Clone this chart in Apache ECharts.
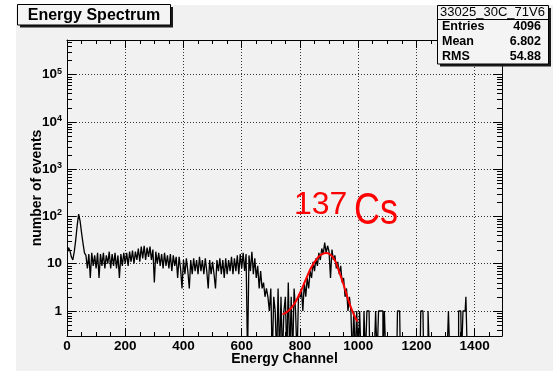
<!DOCTYPE html>
<html>
<head>
<meta charset="utf-8">
<script src="https://cdn.jsdelivr.net/npm/echarts@6/dist/echarts.min.js"></script>
<style>
  html, body { margin: 0; padding: 0; background: #fff; }
  #chart { width: 558px; height: 371px; }
</style>
</head>
<body>
<div id="chart"></div>
<script>
// Counts per 5-channel bin, starting at channel 0
const binWidth = 5;
const counts = [
  // 0–65: low-energy peak
  18, 22, 19, 14, 12, 18, 32, 65, 112, 80, 45, 27, 17,
  // 65–200
  15, 8, 16, 5, 17, 9, 15, 8, 17, 5, 16, 9, 17, 8, 15, 10, 18, 8, 16, 9, 17, 8, 15, 5, 16, 9, 17,
  // 200–300
  10, 17, 9, 18, 11, 19, 10, 18, 12, 21, 11, 23, 13, 24, 12, 22, 14, 23, 12, 20,
  // 300–400
  4, 18, 10, 17, 9, 16, 8, 17, 9, 15, 8, 16, 7, 15, 9, 14, 5, 14, 8, 3,
  // 400–600
  12, 6, 13, 7, 3, 12, 6, 13, 7, 12, 6, 14, 7, 12, 6, 13, 7, 3, 12, 6,
  11, 6, 3, 12, 7, 13, 6, 12, 5, 13, 6, 12, 7, 14, 6, 13, 7, 15, 6, 16,
  // 600–700: Compton edge
  8, 17, 7, 16, 0, 15, 7, 18, 6, 13, 5, 9, 3, 7, 3, 4, 2, 3, 2, 1,
  // 700–800
  3, 0, 2, 1, 0, 3, 0, 2, 0, 1, 2, 0, 4, 0, 2, 0, 3, 1, 0, 2,
  // 800–900: photopeak
  2, 3, 1, 4, 2, 5, 3, 7, 5, 11, 7, 13, 9, 17, 12, 21, 16, 28, 17, 24,
  // 900–1000
  18, 5, 20, 12, 15, 8, 11, 6, 9, 4, 5, 2, 3, 1, 2, 1, 0, 1, 0, 1,
  // 1000–1500
  0, 1, 0, 0, 1, 0, 1, 1, 0, 0,
  0, 0, 1, 0, 1, 1, 1, 0, 1, 0,
  0, 0, 0, 0, 0, 0, 0, 1, 1, 0,
  0, 0, 0, 0, 0, 0, 0, 0, 0, 0,
  0, 0, 0, 1, 1, 0, 0, 0, 1, 0,
  0, 0, 0, 0, 0, 0, 0, 0, 0, 0,
  0, 0, 1, 0, 0, 0, 0, 0, 0, 1,
  1, 0, 1, 1, 2, 0, 0, 0, 0, 0,
  0, 0, 0, 0, 0, 0, 0, 0, 0, 0,
  0, 0, 0, 0, 0, 0, 0, 0, 0, 0
];

// Gaussian fit over the 137Cs photopeak
const fitChannels = [740, 760, 780, 800, 820, 840, 860, 875, 890, 905, 920, 935, 950, 965, 980, 997];
const fitCounts   = [0.85, 1.0, 1.4, 2.4, 4.6, 8.6, 13.2, 15.8, 16.8, 15.5, 11.8, 6.7, 3.6, 1.8, 1.0, 0.6];

// Axis ranges
const xRange = [0, 1494];
const yRange = [0.296, 542000];

// Statistics box
const statsTitle = '33025_30C_71V6';
const statsNames = ['Entries', 'Mean', 'RMS'];
const statsValues = ['4096', '6.802', '54.88'];

const histTitle = 'Energy Spectrum';
const xTitle = 'Energy Channel';
const yTitle = 'number of events';

// Empty bins sit below the visible range of the log axis
const emptyBin = 0.1;
const histData = counts.map((c, i) => [i * binWidth + binWidth / 2, c > 0 ? c : emptyBin]);
const fitData = fitChannels.map((ch, i) => [ch, fitCounts[i]]);

// Log-axis secondary ticks at 2..9 of each decade
const yMinorTicks = [];
for (let e = -1; e <= 5; e++) {
  for (let m = 2; m <= 9; m++) {
    const v = m * Math.pow(10, e);
    if (v > yRange[0] && v < yRange[1]) yMinorTicks.push(v);
  }
}

const FONT = '"Liberation Sans", Arial, Helvetica, sans-serif';
const black = '#000';
const pad = '#f1f1f1';
const labelStyle = { fontFamily: FONT, fontWeight: 'bold', fontSize: 13.5, color: black };
const titleStyle = { fontFamily: FONT, fontWeight: 'bold', fontSize: 14, color: black };
const gridLine = { show: true, lineStyle: { color: '#333', width: 1, type: [1, 2] } };

function xAxisDef(position, main) {
  return {
    type: 'value', position, min: xRange[0], max: xRange[1], interval: 200,
    axisLine: { show: true, onZero: false, lineStyle: { color: black, width: 1 } },
    axisTick: { show: true, inside: true, length: 8, lineStyle: { color: black } },
    minorTick: { show: true, splitNumber: 4, length: 4, lineStyle: { color: black } },
    axisLabel: main
      ? Object.assign({ show: true, margin: 3, showMaxLabel: false, formatter: v => String(v) }, labelStyle)
      : { show: false },
    splitLine: main ? gridLine : { show: false },
    name: main ? xTitle : '',
    nameLocation: 'middle', nameGap: 16, nameMoveOverlap: false, nameTextStyle: titleStyle
  };
}

function yAxisDef(position, withLabels) {
  const base = {
    type: 'log', logBase: 10, position, min: yRange[0], max: yRange[1],
    axisLine: { show: true, onZero: false, lineStyle: { color: black, width: 1 } },
    axisTick: { show: true, inside: true, length: 9, lineStyle: { color: black } },
    splitLine: { show: false },
    axisLabel: { show: false }
  };
  if (withLabels) {
    base.splitLine = gridLine;
    base.axisLabel = {
      show: true, margin: 5, showMinLabel: false, showMaxLabel: false,
      formatter: v => {
        const e = Math.round(Math.log10(v));
        return e <= 1 ? '{b|' + Math.round(v) + '}' : '{b|10}{s|' + e + '}';
      },
      rich: {
        b: { fontFamily: FONT, fontWeight: 'bold', fontSize: 13.5, lineHeight: 16, color: black },
        s: { fontFamily: FONT, fontWeight: 'bold', fontSize: 9, lineHeight: 9, verticalAlign: 'top', color: black }
      }
    };
    base.name = yTitle;
    base.nameLocation = 'middle';
    base.nameGap = 23;
    base.nameMoveOverlap = false;
    base.nameTextStyle = titleStyle;
  }
  return base;
}

// Short secondary ticks on both vertical frame edges, placed through the y scale
function renderMinorTick(params, api) {
  const y = Math.round(api.coord([xRange[0], api.value(1)])[1]) + 0.5;
  const cs = params.coordSys;
  const xl = cs.x, xr = cs.x + cs.width;
  return {
    type: 'group',
    children: [
      { type: 'line', shape: { x1: xl, y1: y, x2: xl + 5, y2: y }, style: { stroke: black, lineWidth: 1 } },
      { type: 'line', shape: { x1: xr - 5, y1: y, x2: xr, y2: y }, style: { stroke: black, lineWidth: 1 } }
    ]
  };
}

function boxWithShadow(x, y, w, h, children) {
  return {
    type: 'group',
    children: [
      { type: 'rect', z: 100, shape: { x: x + 2.5, y: y + 2.5, width: w, height: h }, style: { fill: '#1a1a1a' } },
      { type: 'rect', z: 101, shape: { x: x, y: y, width: w, height: h }, style: { fill: '#f4f4f4', stroke: black, lineWidth: 1 } }
    ].concat(children.map(c => Object.assign({ z: 102 }, c)))
  };
}

const statsChildren = [
  { type: 'line', shape: { x1: 437.5, y1: 19.5, x2: 548.5, y2: 19.5 }, style: { stroke: black, lineWidth: 1 } },
  { type: 'text', style: { text: statsTitle, x: 492.5, y: 12.5, align: 'center', verticalAlign: 'middle',
      font: '13px ' + FONT, fill: black } }
];
statsNames.forEach((n, i) => {
  const y = 27 + i * 15;
  statsChildren.push({ type: 'text', style: { text: n, x: 442, y, align: 'left', verticalAlign: 'middle',
    font: 'bold 12.5px ' + FONT, fill: black } });
  statsChildren.push({ type: 'text', style: { text: statsValues[i], x: 541, y, align: 'right', verticalAlign: 'middle',
    font: 'bold 12.5px ' + FONT, fill: black } });
});

const chart = echarts.init(document.getElementById('chart'), null, { renderer: 'canvas' });
chart.setOption({
  animation: false,
  backgroundColor: '#fff',
  grid: { left: 67, right: 56, top: 40, bottom: 35, show: true, backgroundColor: pad, borderWidth: 0, outerBoundsMode: 'none' },
  xAxis: [xAxisDef('bottom', true), xAxisDef('top', false)],
  yAxis: [yAxisDef('left', true), yAxisDef('right', false)],
  series: [
    {
      type: 'custom', name: 'minor ticks', xAxisIndex: 0, yAxisIndex: 0,
      data: yMinorTicks.map(v => [xRange[0], v]), renderItem: renderMinorTick, clip: false, silent: true, z: 1
    },
    {
      type: 'line', name: 'spectrum', xAxisIndex: 0, yAxisIndex: 0,
      data: histData, step: 'middle', showSymbol: false, clip: true,
      lineStyle: { color: black, width: 1.3 }, z: 3
    },
    {
      type: 'line', name: 'fit', xAxisIndex: 0, yAxisIndex: 0,
      data: fitData, smooth: true, showSymbol: false, clip: true,
      lineStyle: { color: '#ff0000', width: 2 }, z: 4
    }
  ],
  graphic: [
    { type: 'rect', z: -100, shape: { x: 16, y: 5, width: 537, height: 366 }, style: { fill: pad } },
    boxWithShadow(17.5, 4.5, 153, 20.5, [
      { type: 'text', style: { text: histTitle, x: 94, y: 15.5, align: 'center', verticalAlign: 'middle',
          font: 'bold 16px ' + FONT, fill: black } }
    ]),
    boxWithShadow(437.5, 5.5, 111, 58.5, statsChildren),
    { type: 'text', z: 90, x: 294, y: 205,
      style: { text: '137', align: 'left', verticalAlign: 'middle', font: '32px ' + FONT, fill: '#ff0000' } },
    { type: 'text', z: 90, x: 354, y: 212, scaleX: 0.82,
      style: { text: 'Cs', align: 'left', verticalAlign: 'middle', font: '44px ' + FONT, fill: '#ff0000' } }
  ]
});
</script>
</body>
</html>
